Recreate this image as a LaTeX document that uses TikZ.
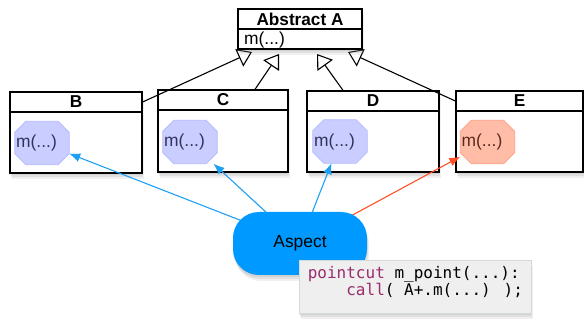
\documentclass[tikz,border=0pt]{standalone}
\usepackage{fontspec}
\setmainfont{Liberation Sans}
\newfontfamily\codefont{DejaVu Sans Mono}
\usetikzlibrary{arrows.meta,shadows}
\definecolor{octfill}{HTML}{C9CDFF}
\definecolor{octdraw}{HTML}{B2B9FF}
\definecolor{octtext}{HTML}{33335A}
\definecolor{redfill}{HTML}{FFBCA6}
\definecolor{reddraw}{HTML}{FF9C80}
\definecolor{redtext}{HTML}{5A2A1E}
\definecolor{aspblue}{HTML}{0099FF}
\definecolor{linkblue}{HTML}{1EA0F5}
\definecolor{linkred}{HTML}{FF5026}
\definecolor{codebg}{HTML}{EFEFEF}
\definecolor{codeedge}{HTML}{D3DADA}
\definecolor{kw}{HTML}{9B2C6E}
\pgfdeclarelayer{boxes}
\pgfdeclarelayer{links}
\pgfsetlayers{boxes,links,main}
\tikzset{
  softshadow/.style={
    drop shadow={shadow xshift=0pt,shadow yshift=-2pt,opacity=.14},
    drop shadow={shadow xshift=1pt,shadow yshift=-4pt,opacity=.14},
    drop shadow={shadow xshift=2pt,shadow yshift=-6pt,opacity=.12}},
  classbody/.style={draw=black,line width=1.3pt,fill=white,inner sep=0pt,softshadow},
  classhead/.style={draw=black,line width=1.3pt,fill=white,inner sep=0pt,
    minimum height=20pt,anchor=north,font=\bfseries\fontsize{17.2}{19}\selectfont},
  octo/.style={rectangle,minimum width=54pt,minimum height=43pt,inner sep=0pt},
  octlabel/.style={anchor=west,inner sep=0pt,font=\fontsize{17.4}{19}\selectfont},
  gen/.style={line width=1.1pt,-{Triangle[open,length=14pt,width=19pt,line width=1.1pt]}},
  blink/.style={draw=linkblue,line width=1.1pt,-{Latex[length=11pt,width=9pt]}},
  rlink/.style={blink,draw=linkred},
  aspect/.style={rounded corners=26pt,fill=aspblue,minimum width=134pt,
    minimum height=63pt,inner sep=0pt,font=\fontsize{17.4}{19}\selectfont,softshadow},
  codebox/.style={fill=codebg,draw=codeedge,line width=0.8pt,anchor=north west,
    minimum width=232pt,minimum height=53pt,inner xsep=4pt,inner ysep=0pt,
    align=left,font=\codefont\fontsize{16}{17}\selectfont,softshadow},
  plain/.style={inner sep=0pt,font=\fontsize{17.4}{19}\selectfont}
}
\begin{document}
\begin{tikzpicture}[x=1pt,y=-1pt]
\useasboundingbox (0,0) rectangle (584,320);
\begin{pgfonlayer}{boxes}
  % subclasses
  \node[classbody,minimum width=132pt,minimum height=81pt] (B) at (76,132.5) {};
  \node[classhead,minimum width=132pt] (Bh) at (B.north) {B};
  \node[classbody,minimum width=130pt,minimum height=82pt] (C) at (223,131) {};
  \node[classhead,minimum width=130pt] (Ch) at (C.north) {C};
  \node[classbody,minimum width=132pt,minimum height=81pt] (D) at (373,131.5) {};
  \node[classhead,minimum width=132pt] (Dh) at (D.north) {D};
  \node[classbody,minimum width=127pt,minimum height=81pt] (E) at (519.5,131.5) {};
  \node[classhead,minimum width=127pt] (Eh) at (E.north) {E};
  % methods (octagons)
  \node[octo] (mB) at (42,143) {};
  \node[octo] (mC) at (190,142) {};
  \node[octo] (mD) at (340,141.5) {};
  \node[octo] (mE) at (487.5,142) {};
  \foreach \n/\f/\d in {mB/octfill/octdraw,mC/octfill/octdraw,mD/octfill/octdraw,mE/redfill/reddraw}{
    \filldraw[fill=\f,draw=\d,line width=0.8pt]
      ([xshift=11pt]\n.north west) -- ([xshift=-11pt]\n.north east)
      -- ([yshift=-11pt]\n.north east) -- ([yshift=11pt]\n.south east)
      -- ([xshift=-11pt]\n.south east) -- ([xshift=11pt]\n.south west)
      -- ([yshift=11pt]\n.south west) -- ([yshift=-11pt]\n.north west) -- cycle;
  }
  \node[octlabel,text=octtext] (tB) at (16,143) {m(...)};
  \node[octlabel,text=octtext] (tC) at (164,142) {m(...)};
  \node[octlabel,text=octtext] (tD) at (314,141.5) {m(...)};
  \node[octlabel,text=redtext] (tE) at (461.5,142) {m(...)};
  % generalizations
  \coordinate (gB) at (252,52);
  \coordinate (gC) at (279,54);
  \coordinate (gD) at (317,54);
  \coordinate (gE) at (348,52);
  \draw[gen] (Bh.east) -- (gB);
  \draw[gen] ([xshift=32pt]Ch.north) -- (gC);
  \draw[gen] ([xshift=-30pt]Dh.north) -- (gD);
  \draw[gen] (Eh.west) -- (gE);
  % abstract class
  \node[classbody,minimum width=124pt,minimum height=40pt] (A) at (300,29) {};
  \node[classhead,minimum width=124pt] (Ah) at (A.north) {Abstract A};
  \node[plain,anchor=base west] (Am) at (244,45) {m(...)};
\end{pgfonlayer}
\node[aspect] (asp) at (300,243.5) {Aspect};
\begin{pgfonlayer}{links}
  \draw[blink] (asp.center) -- (mB);
  \draw[blink] (asp.center) -- (mC);
  \draw[blink] (asp.center) -- (mD);
  \draw[rlink] (asp.center) -- (mE);
\end{pgfonlayer}
\node[codebox] (code) at (299,260) {{\color{kw}pointcut} m\_point(...):\\
\hphantom{xxxx}{\color{kw}call}( A+.m(...) );\rule[-12pt]{0pt}{12pt}};
\end{tikzpicture}
\end{document}
